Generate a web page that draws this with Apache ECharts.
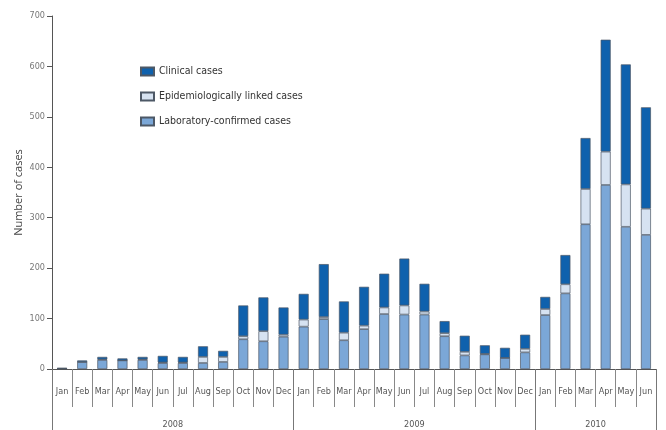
<!DOCTYPE html>
<html>
<head>
<meta charset="utf-8">
<script src="https://cdn.jsdelivr.net/npm/echarts@6/dist/echarts.min.js"></script>
<style>html,body{margin:0;padding:0;background:#fff}#c{width:666px;height:430px}</style>
</head>
<body>
<div id="c"></div>
<script>
var months = ['Jan','Feb','Mar','Apr','May','Jun','Jul','Aug','Sep','Oct','Nov','Dec',
              'Jan','Feb','Mar','Apr','May','Jun','Jul','Aug','Sep','Oct','Nov','Dec',
              'Jan','Feb','Mar','Apr','May','Jun'];
var years = ['2008','2009','2010'];
var yearStarts = [0, 12, 24, 30];
var labConfirmed = [1,14,18,17,18,12,12,12,14,59,55,64,
                    84,99,57,79,109,108,108,65,27,29,22,33,
                    107,150,287,365,282,266];
var epiLinked = [0,0,1,0,1,1,1,12,10,6,20,4,
                 14,4,15,7,13,18,6,6,7,1,0,7,
                 12,18,70,66,84,52];
var clinical = [1,3,5,4,5,13,11,21,12,61,67,54,
                51,105,62,77,67,93,55,24,32,17,20,28,
                24,58,101,222,238,201];
var yTicks = [0,100,200,300,400,500,600,700];

var font = "'DejaVu Sans Condensed','Liberation Sans Narrow',sans-serif";
var chart = echarts.init(document.getElementById('c'));
var border = {borderColor:'#4d5866', borderWidth:0.7};
chart.setOption({
  animation:false,
  grid:{left:52, right:10, top:16, bottom:61},
  legend:{
    orient:'vertical', left:135, top:61, itemGap:14,
    itemWidth:13, itemHeight:8, icon:'rect',
    data:['Clinical cases','Epidemiologically linked cases','Laboratory-confirmed cases'],
    textStyle:{fontFamily:font, fontSize:10.5, color:'#333'}
  },
  xAxis:[{
    type:'category', data:months, position:'bottom',
    axisLine:{lineStyle:{color:'#555', width:1}},
    axisTick:{show:true, alignWithLabel:false, length:38, interval:0, lineStyle:{color:'#888'}},
    axisLabel:{interval:0, margin:18, fontFamily:font, fontSize:9, color:'#555'}
  },{
    type:'value', min:0, max:months.length, position:'bottom',
    axisLine:{show:false}, splitLine:{show:false},
    axisTick:{show:true, length:61, customValues:yearStarts, lineStyle:{color:'#777'}},
    axisLabel:{
      customValues:[(yearStarts[0]+yearStarts[1])/2,(yearStarts[1]+yearStarts[2])/2,(yearStarts[2]+yearStarts[3])/2],
      margin:51, fontFamily:font, fontSize:9, color:'#555',
      formatter:function(v){ for(var i=0;i<3;i++){ if(v>yearStarts[i]&&v<yearStarts[i+1]) return years[i]; } return ''; }
    }
  }],
  yAxis:{
    type:'value', min:0, max:700, interval:100,
    name:'Number of cases', nameLocation:'middle', nameGap:28, nameMoveOverlap:false,
    nameTextStyle:{fontFamily:"'Open Sans',sans-serif", fontSize:11, color:'#444'},
    axisLine:{show:true, lineStyle:{color:'#555'}},
    axisTick:{show:true, length:5, lineStyle:{color:'#555'}},
    axisLabel:{fontFamily:font, fontSize:9, color:'#777', margin:7,
      formatter:function(v){ return yTicks.indexOf(v)>=0 ? String(v) : ''; }},
    splitLine:{show:false}
  },
  series:[
    {name:'Laboratory-confirmed cases', type:'bar', stack:'a', data:labConfirmed, barWidth:10,
     itemStyle:Object.assign({color:'#7ba7d7'}, border)},
    {name:'Epidemiologically linked cases', type:'bar', stack:'a', data:epiLinked, barWidth:10,
     itemStyle:Object.assign({color:'#d6e2f1'}, border)},
    {name:'Clinical cases', type:'bar', stack:'a', data:clinical, barWidth:10,
     itemStyle:Object.assign({color:'#0f61ad'}, border)}
  ]
});
</script>
</body>
</html>
